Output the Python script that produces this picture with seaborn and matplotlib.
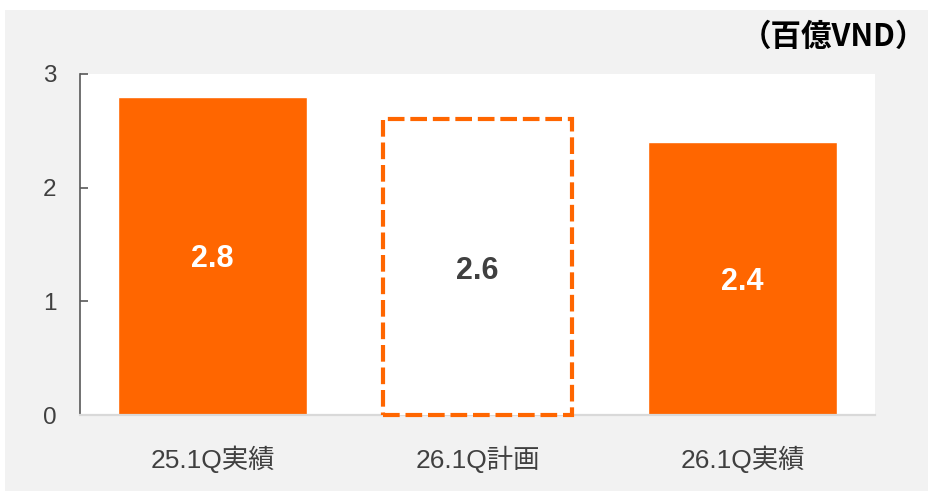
import matplotlib
matplotlib.use("Agg")
import matplotlib.pyplot as plt
from matplotlib.patches import Rectangle
import seaborn as sns
import pandas as pd

categories = ["25.1Q実績", "26.1Q計画", "26.1Q実績"]
values = [2.8, 2.6, 2.4]
unit_label = "（百億VND）"
yticks = [0, 1, 2, 3]

ORANGE = "#FF6600"
GRAY_TXT = "#404040"
FONTS = ["Liberation Sans", "Noto Sans CJK JP", "DejaVu Sans"]

sns.set_style("white")
plt.rcParams["font.family"] = FONTS

df = pd.DataFrame({"cat": categories, "val": values})

fig = plt.figure(figsize=(9.29, 4.91), dpi=100, facecolor="white")
fig.patches.append(Rectangle((5 / 929, 0), 1, 1 - 10 / 491, transform=fig.transFigure,
                             facecolor="#F2F2F2", edgecolor="none", zorder=-10))
ax = fig.add_axes([80 / 929, 1 - 415 / 491, (875 - 80) / 929, (415 - 74) / 491])
ax.set_facecolor("white")

sns.barplot(data=df, x="cat", y="val", hue="cat", palette=[ORANGE] * 3,
            width=0.715, legend=False, ax=ax, saturation=1)

# plan bar: dashed outline
plan = ax.patches[1]
plan.set_facecolor("white")
plan.set_edgecolor(ORANGE)
plan.set_linewidth(3)
plan.set_linestyle((0, (4, 1.4)))
plan.set_clip_on(False)
plan.set_zorder(5)

label_colors = ["white", GRAY_TXT, "white"]
for i, cont in enumerate(ax.containers):
    txts = ax.bar_label(cont, labels=[f"{values[i]:.1f}"], label_type="center",
                        color=label_colors[i], fontsize=22, fontweight="bold", zorder=6)
    for t in txts:
        t.set_va("center_baseline")

ax.set_ylim(0, 3)
ax.set_xlim(-0.5, 2.5)
ax.set_yticks(yticks)
ax.set_xlabel("")
ax.set_ylabel("")

for s in ["top", "right"]:
    ax.spines[s].set_visible(False)
ax.spines["left"].set_color("#595959")
ax.spines["left"].set_linewidth(1.2)
ax.spines["bottom"].set_color("#D9D9D9")
ax.spines["bottom"].set_linewidth(1.6)

ax.tick_params(axis="y", direction="in", length=6, width=1.2, color="#595959",
               labelsize=17.5, labelcolor=GRAY_TXT, pad=17, left=True)
ax.tick_params(axis="x", length=0, labelsize=19, labelcolor=GRAY_TXT, pad=22)

fig.text(0.997, 1 - 37 / 491, unit_label, ha="right", va="center",
         fontsize=22, fontweight="bold", color="black", family=["Noto Sans CJK JP", "Liberation Sans"])

fig.savefig("out.png", dpi=100, facecolor=fig.get_facecolor())
